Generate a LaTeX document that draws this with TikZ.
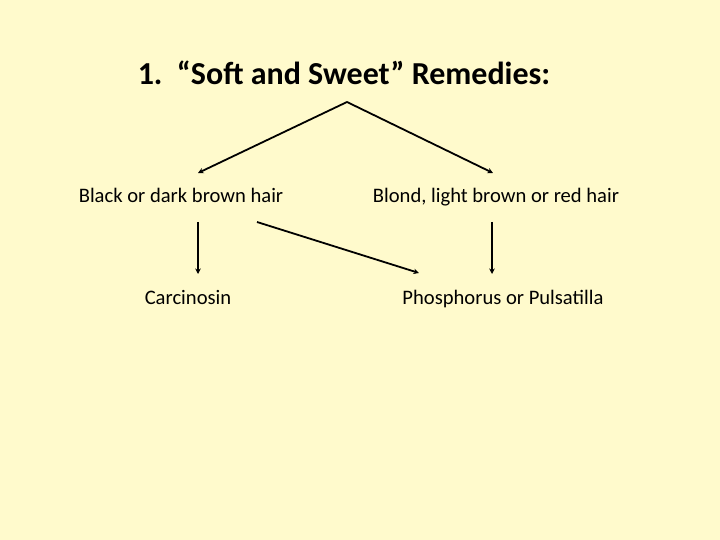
\documentclass[tikz,border=0pt]{standalone}
\usepackage{fontspec}
\setmainfont{Carlito}
\usetikzlibrary{arrows.meta}
\definecolor{bg}{RGB}{255,250,204}
\tikzset{
  lbl/.style={inner sep=0pt, text height=14pt, text depth=4.5pt, font=\fontsize{20.6}{24}\selectfont},
  conn/.style={line width=1.8pt, -{Stealth[length=5.5pt,width=5.5pt]}}
}
\begin{document}
\begin{tikzpicture}[x=1pt,y=-1pt]
\fill[bg] (0,0) rectangle (720,540);
\useasboundingbox (0,0) rectangle (720,540);
\node[inner sep=0pt, font=\bfseries\fontsize{32}{38}\selectfont] (title) at (344,73) {1.\ \ “Soft and Sweet” Remedies:};
\node[lbl] (black) at (181,198) {Black or dark brown hair};
\node[lbl] (blond) at (496,198) {Blond, light brown or red hair};
\node[lbl] (carc) at (188,300) {Carcinosin};
\node[lbl] (phos) at (503,300) {Phosphorus or Pulsatilla};
\coordinate (apex) at (347,102);
\coordinate (bl) at (198,173);
\coordinate (br) at (493,173);
\coordinate (v1s) at (198,222);
\coordinate (v1e) at (198,274);
\coordinate (v2s) at (492,222);
\coordinate (v2e) at (492,274);
\coordinate (ds) at (257,222);
\coordinate (de) at (419,273);
\draw[conn] (apex) -- (bl);
\draw[conn] (apex) -- (br);
\draw[conn] (v1s) -- (v1e);
\draw[conn] (v2s) -- (v2e);
\draw[conn] (ds) -- (de);
\end{tikzpicture}
\end{document}
